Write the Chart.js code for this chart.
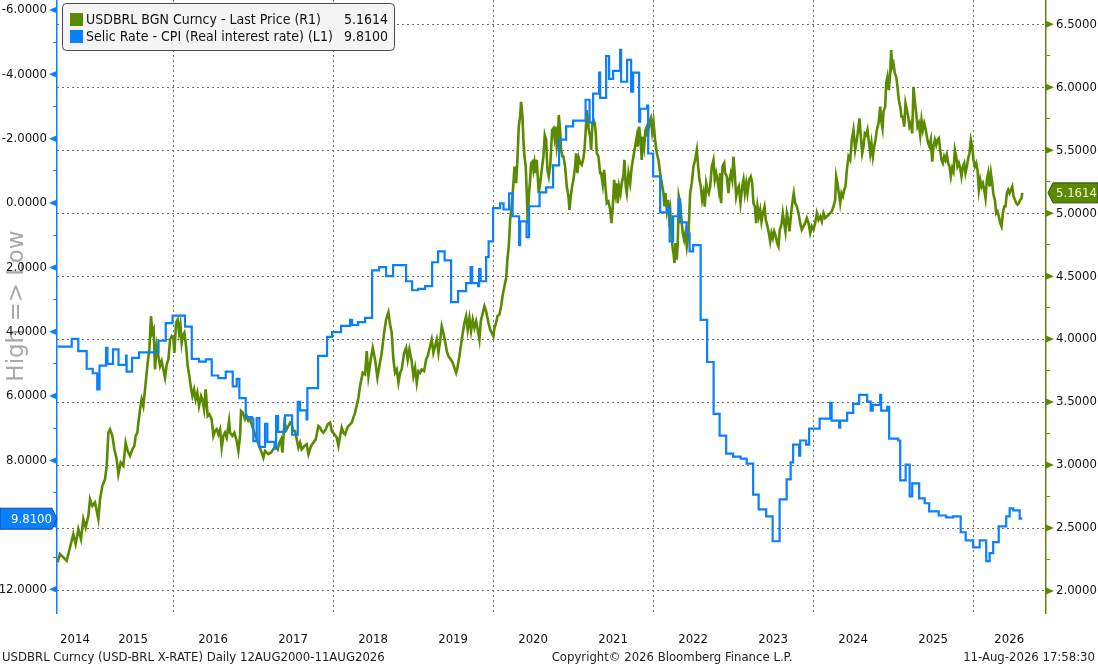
<!DOCTYPE html>
<html>
<head>
<meta charset="utf-8">
<script src="https://cdn.jsdelivr.net/npm/chart.js@4.4.1/dist/chart.umd.min.js"></script>
<style>
html, body { margin: 0; padding: 0; background: #fff; }
#box { width: 1098px; height: 666px; }
</style>
</head>
<body>
<div id="box"><canvas id="myChart" width="1098" height="666"></canvas></div>
<script>
// USDBRL spot (right axis) - [decimal year, price]
const usdbrl = [
[2014.558,2.227],[2014.587,2.293],[2014.629,2.267],[2014.671,2.240],[2014.713,2.346],[2014.754,2.452],[2014.783,2.372],[2014.817,2.491],[2014.850,2.412],[2014.879,2.571],[2014.908,2.504],[2014.942,2.597],[2014.963,2.729],[2014.992,2.676],
[2015.025,2.703],[2015.067,2.571],[2015.088,2.729],[2015.117,2.835],[2015.150,2.887],[2015.171,2.993],[2015.192,3.257],[2015.213,3.284],[2015.242,3.231],[2015.267,3.125],[2015.296,3.046],[2015.317,2.927],[2015.346,3.020],[2015.379,2.993],[2015.408,3.178],[2015.433,3.112],[2015.463,3.072],[2015.492,3.125],[2015.517,3.152],[2015.533,3.231],[2015.554,3.257],[2015.567,3.337],[2015.588,3.442],[2015.608,3.521],[2015.629,3.469],[2015.658,3.653],[2015.683,3.812],[2015.704,3.918],[2015.725,4.182],[2015.742,4.050],[2015.758,4.076],[2015.775,3.759],[2015.796,3.944],[2015.817,3.865],[2015.838,3.786],[2015.858,3.825],[2015.879,3.759],[2015.900,3.693],[2015.921,3.799],[2015.942,3.838],[2015.963,3.997],[2015.983,4.023],
[2016.004,4.010],[2016.017,3.891],[2016.038,4.129],[2016.058,4.155],[2016.075,4.050],[2016.092,4.116],[2016.108,3.970],[2016.121,4.023],[2016.142,4.050],[2016.163,3.944],[2016.183,3.786],[2016.204,3.706],[2016.221,3.627],[2016.242,3.548],[2016.263,3.601],[2016.283,3.521],[2016.304,3.574],[2016.325,3.469],[2016.350,3.548],[2016.367,3.521],[2016.388,3.442],[2016.408,3.601],[2016.433,3.389],[2016.454,3.403],[2016.483,3.363],[2016.504,3.231],[2016.525,3.270],[2016.546,3.284],[2016.567,3.244],[2016.588,3.284],[2016.608,3.138],[2016.629,3.231],[2016.650,3.257],[2016.671,3.218],[2016.700,3.350],[2016.713,3.257],[2016.742,3.231],[2016.767,3.257],[2016.796,3.191],[2016.817,3.112],[2016.838,3.231],[2016.850,3.429],[2016.871,3.416],[2016.900,3.363],[2016.921,3.389],[2016.942,3.350],[2016.963,3.363],[2016.983,3.323],
[2017.017,3.257],[2017.046,3.204],[2017.075,3.152],[2017.108,3.099],[2017.129,3.059],[2017.150,3.112],[2017.192,3.086],[2017.225,3.099],[2017.254,3.125],[2017.283,3.152],[2017.308,3.125],[2017.329,3.178],[2017.350,3.204],[2017.367,3.099],[2017.392,3.337],[2017.421,3.284],[2017.442,3.310],[2017.463,3.337],[2017.483,3.323],[2017.504,3.270],[2017.525,3.270],[2017.546,3.204],[2017.567,3.138],[2017.588,3.178],[2017.608,3.125],[2017.642,3.152],[2017.671,3.165],[2017.692,3.086],[2017.725,3.152],[2017.754,3.178],[2017.783,3.204],[2017.817,3.310],[2017.838,3.297],[2017.858,3.270],[2017.879,3.257],[2017.908,3.284],[2017.933,3.323],[2017.963,3.337],[2017.983,3.270],
[2018.017,3.244],[2018.046,3.218],[2018.067,3.152],[2018.088,3.231],[2018.108,3.297],[2018.129,3.257],[2018.150,3.244],[2018.171,3.284],[2018.192,3.310],[2018.213,3.323],[2018.233,3.337],[2018.254,3.376],[2018.275,3.416],[2018.317,3.535],[2018.338,3.627],[2018.371,3.733],[2018.400,3.720],[2018.421,3.904],[2018.442,3.706],[2018.471,3.838],[2018.496,3.931],[2018.525,3.838],[2018.554,3.693],[2018.579,3.786],[2018.608,3.891],[2018.638,4.050],[2018.663,4.155],[2018.692,4.213],[2018.713,4.116],[2018.733,4.050],[2018.754,3.838],[2018.775,3.733],[2018.796,3.759],[2018.817,3.653],[2018.838,3.733],[2018.858,3.759],[2018.888,3.891],[2018.913,3.931],[2018.933,3.838],[2018.954,3.918],[2018.983,3.825],
[2019.004,3.706],[2019.025,3.772],[2019.046,3.653],[2019.067,3.746],[2019.088,3.733],[2019.108,3.759],[2019.138,3.746],[2019.163,3.838],[2019.183,3.865],[2019.213,3.944],[2019.233,3.997],[2019.254,3.891],[2019.275,3.944],[2019.296,3.997],[2019.317,3.891],[2019.338,3.984],[2019.358,4.102],[2019.379,4.050],[2019.400,3.984],[2019.421,3.904],[2019.442,3.865],[2019.471,3.838],[2019.496,3.812],[2019.517,3.772],[2019.538,3.733],[2019.554,3.772],[2019.579,3.865],[2019.600,3.957],[2019.621,4.050],[2019.642,4.129],[2019.663,4.182],[2019.683,4.076],[2019.704,4.168],[2019.725,4.063],[2019.746,4.155],[2019.767,4.089],[2019.788,4.142],[2019.808,4.076],[2019.829,3.997],[2019.846,4.142],[2019.871,4.208],[2019.892,4.261],[2019.913,4.221],[2019.942,4.129],[2019.963,4.076],[2019.983,4.050],
[2020.004,4.023],[2020.017,4.089],[2020.038,4.129],[2020.054,4.182],[2020.079,4.195],[2020.100,4.261],[2020.121,4.353],[2020.142,4.419],[2020.163,4.485],[2020.179,4.631],[2020.196,4.736],[2020.213,4.948],[2020.233,5.053],[2020.254,5.238],[2020.267,5.370],[2020.288,5.238],[2020.304,5.423],[2020.321,5.687],[2020.338,5.766],[2020.350,5.885],[2020.367,5.766],[2020.379,5.582],[2020.392,5.450],[2020.408,5.370],[2020.421,5.159],[2020.433,4.921],[2020.446,5.133],[2020.463,5.265],[2020.475,5.397],[2020.492,5.410],[2020.504,5.344],[2020.517,5.397],[2020.529,5.318],[2020.546,5.423],[2020.558,5.291],[2020.571,5.159],[2020.588,5.238],[2020.608,5.344],[2020.629,5.450],[2020.646,5.621],[2020.663,5.582],[2020.679,5.344],[2020.696,5.291],[2020.713,5.370],[2020.725,5.502],[2020.738,5.661],[2020.754,5.674],[2020.767,5.608],[2020.779,5.687],[2020.796,5.529],[2020.808,5.582],[2020.821,5.780],[2020.838,5.661],[2020.850,5.502],[2020.867,5.450],[2020.879,5.450],[2020.900,5.370],[2020.921,5.212],[2020.942,5.133],[2020.954,5.027],[2020.971,5.133],[2020.988,5.212],
[2021.004,5.265],[2021.025,5.370],[2021.038,5.476],[2021.054,5.318],[2021.071,5.437],[2021.088,5.397],[2021.108,5.384],[2021.129,5.437],[2021.142,5.502],[2021.158,5.661],[2021.171,5.819],[2021.183,5.753],[2021.196,5.661],[2021.213,5.608],[2021.225,5.502],[2021.242,5.714],[2021.254,5.740],[2021.271,5.714],[2021.283,5.634],[2021.296,5.476],[2021.317,5.450],[2021.338,5.318],[2021.350,5.318],[2021.371,5.225],[2021.388,5.344],[2021.404,5.212],[2021.421,5.080],[2021.442,5.093],[2021.463,5.027],[2021.479,4.921],[2021.496,5.053],[2021.513,5.265],[2021.529,5.159],[2021.546,5.238],[2021.558,5.080],[2021.575,5.212],[2021.592,5.159],[2021.608,5.238],[2021.629,5.304],[2021.642,5.423],[2021.658,5.212],[2021.671,5.159],[2021.692,5.318],[2021.713,5.238],[2021.733,5.370],[2021.754,5.450],[2021.775,5.529],[2021.796,5.608],[2021.808,5.529],[2021.825,5.687],[2021.842,5.582],[2021.858,5.423],[2021.871,5.608],[2021.888,5.529],[2021.904,5.661],[2021.921,5.687],[2021.933,5.608],[2021.950,5.714],[2021.971,5.753],[2021.988,5.648],
[2022.004,5.727],[2022.025,5.582],[2022.046,5.476],[2022.067,5.423],[2022.088,5.318],[2022.108,5.238],[2022.129,5.159],[2022.142,5.053],[2022.154,5.159],[2022.171,5.027],[2022.188,5.106],[2022.200,4.974],[2022.213,5.027],[2022.229,4.842],[2022.242,4.736],[2022.254,4.684],[2022.267,4.604],[2022.279,4.763],[2022.296,4.631],[2022.308,4.763],[2022.321,5.133],[2022.338,5.080],[2022.354,4.948],[2022.371,4.842],[2022.388,4.789],[2022.404,4.842],[2022.421,4.736],[2022.442,4.842],[2022.463,5.159],[2022.483,5.238],[2022.504,5.370],[2022.525,5.423],[2022.546,5.502],[2022.563,5.370],[2022.579,5.265],[2022.596,5.212],[2022.613,5.106],[2022.629,5.159],[2022.646,5.053],[2022.663,5.238],[2022.679,5.185],[2022.696,5.159],[2022.713,5.212],[2022.733,5.370],[2022.754,5.423],[2022.771,5.265],[2022.788,5.318],[2022.804,5.265],[2022.821,5.185],[2022.838,5.318],[2022.850,5.080],[2022.867,5.370],[2022.888,5.397],[2022.900,5.318],[2022.921,5.291],[2022.942,5.159],[2022.954,5.265],[2022.971,5.318],[2022.988,5.265],
[2023.004,5.450],[2023.017,5.344],[2023.038,5.133],[2023.054,5.185],[2023.071,5.212],[2023.092,5.080],[2023.113,5.212],[2023.129,5.265],[2023.146,5.159],[2023.163,5.238],[2023.179,5.159],[2023.200,5.265],[2023.221,5.291],[2023.238,5.238],[2023.254,5.080],[2023.271,5.053],[2023.288,4.921],[2023.304,5.053],[2023.321,4.974],[2023.338,5.027],[2023.354,4.934],[2023.371,5.000],[2023.392,5.053],[2023.408,4.948],[2023.429,4.895],[2023.446,4.842],[2023.463,4.776],[2023.479,4.842],[2023.496,4.802],[2023.513,4.855],[2023.533,4.816],[2023.550,4.763],[2023.567,4.736],[2023.583,4.868],[2023.604,4.908],[2023.621,5.000],[2023.638,4.921],[2023.654,4.855],[2023.671,5.000],[2023.688,4.948],[2023.704,4.855],[2023.721,4.974],[2023.742,5.093],[2023.758,5.159],[2023.775,5.080],[2023.796,5.053],[2023.817,5.000],[2023.838,4.921],[2023.858,4.868],[2023.879,4.895],[2023.900,4.921],[2023.921,4.961],[2023.942,4.921],[2023.963,4.842],[2023.983,4.895],
[2024.004,4.868],[2024.025,4.921],[2024.046,5.000],[2024.067,4.948],[2024.088,4.974],[2024.108,4.934],[2024.129,5.000],[2024.150,4.961],[2024.171,4.974],[2024.192,4.987],[2024.213,5.000],[2024.233,5.014],[2024.254,5.053],[2024.275,5.106],[2024.288,5.291],[2024.304,5.238],[2024.321,5.159],[2024.338,5.080],[2024.354,5.159],[2024.371,5.133],[2024.388,5.185],[2024.404,5.212],[2024.421,5.344],[2024.442,5.450],[2024.463,5.423],[2024.483,5.582],[2024.504,5.661],[2024.525,5.502],[2024.546,5.582],[2024.567,5.687],[2024.579,5.753],[2024.596,5.608],[2024.613,5.476],[2024.629,5.529],[2024.646,5.634],[2024.663,5.621],[2024.679,5.661],[2024.696,5.568],[2024.713,5.476],[2024.729,5.555],[2024.746,5.450],[2024.763,5.529],[2024.779,5.582],[2024.796,5.661],[2024.817,5.714],[2024.838,5.846],[2024.850,5.740],[2024.867,5.674],[2024.879,5.806],[2024.900,5.846],[2024.913,6.031],[2024.929,6.083],[2024.946,5.978],[2024.963,6.110],[2024.975,6.295],[2024.988,6.163],
[2025.004,6.189],[2025.021,6.110],[2025.038,6.083],[2025.054,6.004],[2025.071,5.899],[2025.088,5.846],[2025.104,5.766],[2025.121,5.766],[2025.138,5.687],[2025.154,5.872],[2025.171,5.819],[2025.188,5.766],[2025.204,5.687],[2025.221,5.714],[2025.238,5.634],[2025.254,6.004],[2025.271,5.885],[2025.288,5.793],[2025.304,5.687],[2025.321,5.714],[2025.338,5.621],[2025.354,5.740],[2025.371,5.661],[2025.388,5.714],[2025.404,5.674],[2025.421,5.608],[2025.438,5.555],[2025.454,5.529],[2025.471,5.582],[2025.488,5.410],[2025.504,5.529],[2025.521,5.582],[2025.538,5.542],[2025.554,5.582],[2025.571,5.595],[2025.588,5.502],[2025.604,5.423],[2025.621,5.397],[2025.638,5.450],[2025.654,5.423],[2025.671,5.463],[2025.688,5.397],[2025.704,5.370],[2025.721,5.291],[2025.738,5.357],[2025.754,5.331],[2025.771,5.502],[2025.788,5.450],[2025.804,5.370],[2025.821,5.397],[2025.838,5.357],[2025.854,5.291],[2025.871,5.370],[2025.888,5.397],[2025.904,5.318],[2025.921,5.370],[2025.938,5.436],[2025.954,5.476],[2025.971,5.582],[2025.988,5.529],
[2026.004,5.423],[2026.021,5.370],[2026.038,5.397],[2026.054,5.344],[2026.071,5.185],[2026.088,5.265],[2026.104,5.212],[2026.121,5.238],[2026.138,5.185],[2026.154,5.119],[2026.171,5.265],[2026.188,5.318],[2026.204,5.212],[2026.221,5.318],[2026.238,5.238],[2026.254,5.146],[2026.271,5.106],[2026.288,5.000],[2026.304,5.014],[2026.321,4.974],[2026.338,4.921],[2026.354,4.895],[2026.371,5.000],[2026.388,5.053],[2026.404,5.053],[2026.421,5.159],[2026.438,5.185],[2026.454,5.159],[2026.471,5.185],[2026.488,5.212],[2026.504,5.133],[2026.521,5.106],[2026.538,5.080],[2026.554,5.067],[2026.571,5.080],[2026.588,5.106],[2026.604,5.119],[2026.613,5.1614]
];

// Selic minus CPI (left axis, inverted) - [decimal year, rate], each value holds until the next
const selicReal = [
[2014.559,4.46],[2014.734,4.22],[2014.816,4.60],[2014.921,5.15],[2014.996,5.29],[2015.053,5.79],[2015.081,5.05],[2015.163,4.50],[2015.181,5.00],[2015.250,4.55],[2015.319,5.03],[2015.413,4.74],[2015.420,5.24],[2015.488,4.81],[2015.575,4.64],[2015.819,4.28],[2015.909,3.73],[2015.994,3.50],
[2016.150,3.84],[2016.234,4.84],[2016.325,4.93],[2016.409,4.86],[2016.484,5.36],[2016.566,5.44],[2016.659,5.24],[2016.746,5.70],[2016.796,5.46],[2016.829,6.06],[2016.909,6.65],[2016.984,6.70],
[2017.004,7.40],[2017.046,6.68],[2017.079,7.58],[2017.150,6.86],[2017.179,7.42],[2017.269,7.63],[2017.288,6.62],[2017.313,7.11],[2017.400,6.60],[2017.488,7.20],[2017.559,6.18],[2017.588,6.44],[2017.669,6.72],[2017.679,5.75],[2017.813,4.75],[2017.925,4.16],[2017.988,4.01],
[2018.100,3.82],[2018.213,3.63],[2018.238,3.79],[2018.313,3.70],[2018.400,3.57],[2018.488,2.09],[2018.575,1.99],[2018.663,2.27],[2018.750,1.93],[2018.913,2.43],[2018.988,2.71],
[2019.063,2.67],[2019.150,2.58],[2019.238,1.84],[2019.313,1.50],[2019.394,1.78],[2019.475,3.08],[2019.563,2.74],[2019.663,2.49],[2019.719,1.99],[2019.738,2.49],[2019.813,2.58],[2019.825,2.05],[2019.844,2.43],[2019.913,1.68],[2019.944,1.19],
[2020.000,0.16],[2020.088,0.01],[2020.131,0.20],[2020.200,-0.30],[2020.244,0.41],[2020.325,1.31],[2020.338,0.57],[2020.419,1.06],[2020.450,0.10],[2020.581,-0.33],[2020.663,-0.49],[2020.750,-1.17],[2020.825,-1.97],[2020.913,-2.38],
[2021.000,-2.56],[2021.156,-3.21],[2021.206,-2.50],[2021.250,-3.40],[2021.325,-4.05],[2021.338,-3.27],[2021.413,-4.57],[2021.450,-3.86],[2021.500,-4.11],[2021.588,-4.76],[2021.600,-3.77],[2021.675,-4.45],[2021.725,-3.46],[2021.750,-4.05],[2021.825,-2.53],[2021.838,-2.93],[2021.925,-3.03],[2021.938,-1.54],
[2022.000,-0.83],[2022.088,0.29],[2022.175,0.13],[2022.206,1.19],[2022.250,0.41],[2022.319,-0.11],[2022.338,0.60],[2022.419,0.94],[2022.456,1.50],[2022.500,1.31],[2022.594,3.63],[2022.675,4.94],[2022.756,6.55],[2022.831,7.23],[2022.913,7.79],
[2023.000,7.88],[2023.094,7.94],[2023.169,8.10],[2023.250,9.06],[2023.319,9.52],[2023.413,9.74],[2023.494,10.51],[2023.581,9.21],[2023.669,8.59],[2023.719,8.06],[2023.750,7.51],[2023.825,7.85],[2023.838,7.38],[2023.913,7.51],[2023.950,7.01],
[2024.081,6.70],[2024.213,6.21],[2024.231,6.76],[2024.325,6.98],[2024.338,6.76],[2024.425,6.52],[2024.500,6.24],[2024.575,5.96],[2024.675,6.17],[2024.719,6.45],[2024.744,6.27],[2024.838,5.96],[2024.850,6.45],[2024.925,6.33],[2024.950,7.32],
[2025.063,7.38],[2025.088,8.62],[2025.156,8.13],[2025.206,9.12],[2025.238,8.71],[2025.325,9.18],[2025.394,9.33],[2025.450,9.58],[2025.569,9.71],[2025.663,9.77],[2025.750,9.74],[2025.844,10.23],[2025.906,10.48],
[2026.000,10.70],[2026.081,10.48],[2026.163,11.13],[2026.206,10.88],[2026.250,10.54],[2026.319,10.05],[2026.413,9.74],[2026.456,9.49],[2026.500,9.55],[2026.581,9.81],[2026.613,9.81]
];

const seriesNames = ['USDBRL BGN Curncy - Last Price (R1)', 'Selic Rate - CPI (Real interest rate) (L1)'];
const yearBounds = [2015, 2016, 2017, 2018, 2019, 2020, 2021, 2022, 2023, 2024, 2025, 2026];
const gridYears = [2016, 2018, 2020, 2022, 2024, 2026];
const yearLabelPos = [2014.775, 2015.5, 2016.5, 2017.5, 2018.5, 2019.5, 2020.5, 2021.5, 2022.5, 2023.5, 2024.5, 2025.5, 2026.45];
const leftTicks = [-6, -5, -4, -3, -2, -1, 0, 1, 2, 3, 4, 5, 6, 7, 8, 9, 10, 11, 12];
const rightTicks = [2, 2.25, 2.5, 2.75, 3, 3.25, 3.5, 3.75, 4, 4.25, 4.5, 4.75, 5, 5.25, 5.5, 5.75, 6, 6.25, 6.5];
const footLeft = 'USDBRL Curncy (USD-BRL X-RATE) Daily 12AUG2000-11AUG2026';
const footMid = 'Copyright\u00A9 2026 Bloomberg Finance L.P.';
const footRight = '11-Aug-2026 17:58:30';

const green = '#5a8a00';
const blue = '#0a7fff';
const gridCol = '#6a6a6a';
const FONT = '"DejaVu Sans Condensed", "DejaVu Sans", sans-serif';

Chart.defaults.font.family = FONT;
Chart.defaults.font.size = 13;
Chart.defaults.color = '#111';

const lastUsd = usdbrl[usdbrl.length - 1][1];
const lastSelic = selicReal[selicReal.length - 1][1];

function isMajor(v, step) {
    return Math.abs(v / step - Math.round(v / step)) < 1e-6;
}

function roundBox(c, x, y, w, h, r) {
    c.beginPath();
    c.moveTo(x + r, y);
    c.lineTo(x + w - r, y);
    c.arcTo(x + w, y, x + w, y + r, r);
    c.lineTo(x + w, y + h - r);
    c.arcTo(x + w, y + h, x + w - r, y + h, r);
    c.lineTo(x + r, y + h);
    c.arcTo(x, y + h, x, y + h - r, r);
    c.lineTo(x, y + r);
    c.arcTo(x, y, x + r, y, r);
    c.closePath();
}

const decor = {
    id: 'decor',
    beforeDraw(chart) {
        const c = chart.ctx;
        c.save();
        c.fillStyle = '#fff';
        c.fillRect(0, 0, chart.width, chart.height);
        // rotated side title, sits behind the left tick labels
        c.translate(23, 306);
        c.rotate(-Math.PI / 2);
        c.font = '23px "DejaVu Sans", sans-serif';
        c.fillStyle = '#a8a8a8';
        c.textAlign = 'center';
        c.textBaseline = 'alphabetic';
        c.fillText('High => Low', 0, 0);
        c.restore();
    },
    afterDraw(chart) {
        const c = chart.ctx;
        const yL = chart.scales.yL, yR = chart.scales.yR;
        const xl = chart.chartArea.left, xr = chart.chartArea.right;
        c.save();

        // arrow heads on the major ticks
        c.fillStyle = blue;
        leftTicks.filter(v => isMajor(v, 2)).forEach(v => {
            const y = yL.getPixelForValue(v);
            c.beginPath();
            c.moveTo(xl, y - 3.5);
            c.lineTo(xl, y + 3.5);
            c.lineTo(xl - 8, y);
            c.closePath();
            c.fill();
        });
        c.fillStyle = green;
        rightTicks.filter(v => isMajor(v, 0.5)).forEach(v => {
            const y = yR.getPixelForValue(v);
            c.beginPath();
            c.moveTo(xr, y - 3.5);
            c.lineTo(xr, y + 3.5);
            c.lineTo(xr + 8, y);
            c.closePath();
            c.fill();
        });

        // last value tags
        c.font = '13px ' + FONT;
        let y = yL.getPixelForValue(lastSelic);
        c.beginPath();
        c.moveTo(0, y - 10.5);
        c.lineTo(xl - 5, y - 10.5);
        c.lineTo(xl, y);
        c.lineTo(xl - 5, y + 10.5);
        c.lineTo(0, y + 10.5);
        c.closePath();
        c.fillStyle = blue;
        c.fill();
        c.strokeStyle = '#0a4a9a';
        c.lineWidth = 1;
        c.stroke();
        c.fillStyle = '#fff';
        c.textAlign = 'right';
        c.textBaseline = 'middle';
        c.fillText(lastSelic.toFixed(4), 52, y + 1);

        y = yR.getPixelForValue(lastUsd);
        c.beginPath();
        c.moveTo(chart.width, y - 10);
        c.lineTo(xr + 7, y - 10);
        c.lineTo(xr + 2, y);
        c.lineTo(xr + 7, y + 10);
        c.lineTo(chart.width, y + 10);
        c.closePath();
        c.fillStyle = green;
        c.fill();
        c.strokeStyle = '#2f4a00';
        c.stroke();
        c.fillStyle = '#f2f6e0';
        c.textAlign = 'left';
        c.fillText(lastUsd.toFixed(4), xr + 10, y + 1);

        // legend box
        roundBox(c, 62.5, 3.5, 332, 47, 4);
        c.fillStyle = '#f4f4f4';
        c.fill();
        c.strokeStyle = '#4a4a4a';
        c.lineWidth = 1;
        c.stroke();
        c.font = '14px ' + FONT;
        const rows = [[seriesNames[0], lastUsd, green, 20], [seriesNames[1], lastSelic, blue, 37]];
        rows.forEach(([name, val, col, ry]) => {
            c.fillStyle = col;
            c.fillRect(70, ry - 7, 13, 13);
            c.fillStyle = '#111';
            c.textAlign = 'left';
            c.fillText(name, 86, ry);
            c.textAlign = 'right';
            c.fillText(val.toFixed(4), 388, ry);
        });

        // footer
        c.font = '13px ' + FONT;
        c.fillStyle = '#222';
        c.textBaseline = 'alphabetic';
        c.textAlign = 'left';
        c.fillText(footLeft, 2, 661);
        c.textAlign = 'center';
        c.fillText(footMid, 672, 661);
        c.textAlign = 'right';
        c.fillText(footRight, 1095, 661);
        c.restore();
    }
};

const ctx = document.getElementById('myChart');

new Chart(ctx, {
    type: 'line',
    data: {
        datasets: [{
            label: seriesNames[1],
            data: selicReal.map(p => ({ x: p[0], y: p[1] })),
            yAxisID: 'yL',
            borderColor: blue,
            borderWidth: 2.2,
            stepped: 'before',
            pointRadius: 0,
            order: 0
        }, {
            label: seriesNames[0],
            data: usdbrl.map(p => ({ x: p[0], y: p[1] })),
            yAxisID: 'yR',
            borderColor: green,
            borderWidth: 2.6,
            tension: 0,
            pointRadius: 0,
            order: 1
        }]
    },
    options: {
        responsive: false,
        animation: false,
        devicePixelRatio: 1,
        layout: { padding: 0 },
        plugins: {
            legend: { display: false },
            tooltip: { enabled: false }
        },
        scales: {
            x: {
                type: 'linear',
                min: 2014.55,
                max: 2026.91,
                afterBuildTicks: s => {
                    s.ticks = yearBounds.concat(yearLabelPos).sort((a, b) => a - b).map(v => ({ value: v }));
                },
                grid: {
                    drawTicks: false,
                    color: c => (c.tick && gridYears.includes(c.tick.value)) ? gridCol : 'rgba(0,0,0,0)',
                    lineWidth: 1
                },
                border: { display: false, dash: [2, 3] },
                ticks: {
                    autoSkip: false,
                    maxRotation: 0,
                    padding: 19,
                    color: '#111',
                    callback: v => yearLabelPos.includes(v) ? String(Math.floor(v)) : ''
                },
                afterFit: s => { s.height = 53; s.paddingLeft = 0; s.paddingRight = 0; }
            },
            yL: {
                type: 'linear',
                position: 'left',
                reverse: true,
                min: -6.31,
                max: 12.74,
                afterBuildTicks: s => { s.ticks = leftTicks.map(v => ({ value: v })); },
                grid: { drawOnChartArea: false, tickColor: blue, tickLength: 4 },
                border: { color: blue, width: 1.5 },
                ticks: {
                    padding: 6,
                    color: '#111',
                    callback: v => isMajor(v, 2) ? v.toFixed(4) : ''
                },
                afterFit: s => { s.width = 57; s.paddingTop = 0; s.paddingBottom = 0; }
            },
            yR: {
                type: 'linear',
                position: 'right',
                min: 1.825,
                max: 6.693,
                afterBuildTicks: s => { s.ticks = rightTicks.map(v => ({ value: v })); },
                grid: {
                    color: c => (c.tick && isMajor(c.tick.value, 0.5)) ? gridCol : 'rgba(0,0,0,0)',
                    tickColor: green,
                    tickLength: 4
                },
                border: { color: green, width: 1.5, dash: [2, 3] },
                ticks: {
                    padding: 6,
                    color: '#111',
                    callback: v => isMajor(v, 0.5) ? v.toFixed(4) : ''
                },
                afterFit: s => { s.width = 52; s.paddingTop = 0; s.paddingBottom = 0; }
            }
        }
    },
    plugins: [decor]
});
</script>
</body>
</html>
